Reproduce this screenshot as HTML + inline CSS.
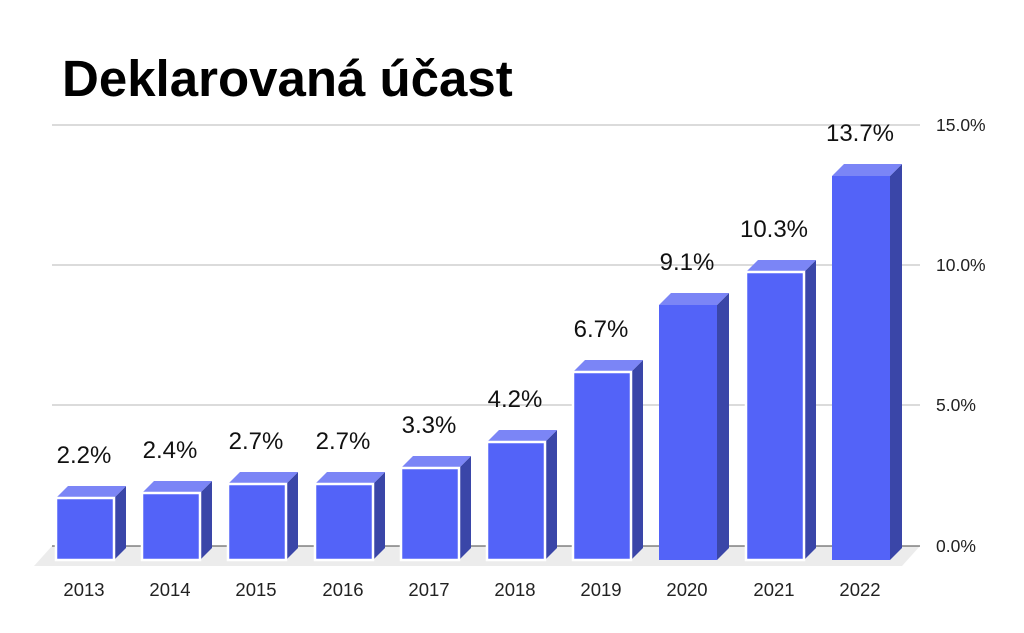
<!DOCTYPE html>
<html><head><meta charset="utf-8"><style>body{margin:0;background:#fff}svg{display:block}</style></head><body>
<svg width="1024" height="633" xmlns="http://www.w3.org/2000/svg" font-family="Liberation Sans, Arial, sans-serif">
<rect width="1024" height="633" fill="#fff"/>
<text x="62" y="96" font-size="51" font-weight="bold" fill="#000">Deklarovaná účast</text>
<g stroke="#cfcfcf" stroke-width="1.5">
<line x1="52" y1="125" x2="920" y2="125"/>
<line x1="52" y1="265" x2="920" y2="265"/>
<line x1="52" y1="405" x2="920" y2="405"/>
</g>
<polygon points="52,546 920,546 902,566 34,566" fill="#ececec"/>
<line x1="52" y1="546" x2="920" y2="546" stroke="#444" stroke-width="1"/>
<g font-size="17.5" fill="#222">
<text x="936" y="131">15.0%</text>
<text x="936" y="271">10.0%</text>
<text x="936" y="411">5.0%</text>
<text x="936" y="552">0.0%</text>
</g>
<g>
<!-- side faces -->
<g fill="#3a46a8">
<polygon points="114,498 126,486 126,548 114,560"/>
<polygon points="200,493 212,481 212,548 200,560"/>
<polygon points="286,484 298,472 298,548 286,560"/>
<polygon points="373,484 385,472 385,548 373,560"/>
<polygon points="459,468 471,456 471,548 459,560"/>
<polygon points="545,442 557,430 557,548 545,560"/>
<polygon points="631,372 643,360 643,548 631,560"/>
<polygon points="717,305 729,293 729,548 717,560"/>
<polygon points="804,272 816,260 816,548 804,560"/>
<polygon points="890,176 902,164 902,548 890,560"/>
</g>
<g fill="#7b85f6">
<polygon points="56,498 68,486 126,486 114,498"/>
<polygon points="142,493 154,481 212,481 200,493"/>
<polygon points="228,484 240,472 298,472 286,484"/>
<polygon points="315,484 327,472 385,472 373,484"/>
<polygon points="401,468 413,456 471,456 459,468"/>
<polygon points="487,442 499,430 557,430 545,442"/>
<polygon points="573,372 585,360 643,360 631,372"/>
<polygon points="659,305 671,293 729,293 717,305"/>
<polygon points="746,272 758,260 816,260 804,272"/>
<polygon points="832,176 844,164 902,164 890,176"/>
</g>
<g fill="#5363f8" stroke="#fff" stroke-width="2.5">
<rect x="56" y="498" width="58" height="62"/>
<rect x="142" y="493" width="58" height="67"/>
<rect x="228" y="484" width="58" height="76"/>
<rect x="315" y="484" width="58" height="76"/>
<rect x="401" y="468" width="58" height="92"/>
<rect x="487" y="442" width="58" height="118"/>
<rect x="573" y="372" width="58" height="188"/>
<rect x="659" y="305" width="58" height="255" stroke="none"/>
<rect x="746" y="272" width="58" height="288"/>
<rect x="832" y="176" width="58" height="384" stroke="none"/>
</g>
<g font-size="24" text-anchor="middle" fill="#111">
<text x="84" y="463">2.2%</text>
<text x="170" y="458">2.4%</text>
<text x="256" y="449">2.7%</text>
<text x="343" y="449">2.7%</text>
<text x="429" y="433">3.3%</text>
<text x="515" y="407">4.2%</text>
<text x="601" y="337">6.7%</text>
<text x="687" y="270">9.1%</text>
<text x="774" y="237">10.3%</text>
<text x="860" y="141">13.7%</text>
</g>
<g font-size="18.5" text-anchor="middle" fill="#222">
<text x="84" y="596">2013</text>
<text x="170" y="596">2014</text>
<text x="256" y="596">2015</text>
<text x="343" y="596">2016</text>
<text x="429" y="596">2017</text>
<text x="515" y="596">2018</text>
<text x="601" y="596">2019</text>
<text x="687" y="596">2020</text>
<text x="774" y="596">2021</text>
<text x="860" y="596">2022</text>
</g>
</g>
</svg>
</body></html>
